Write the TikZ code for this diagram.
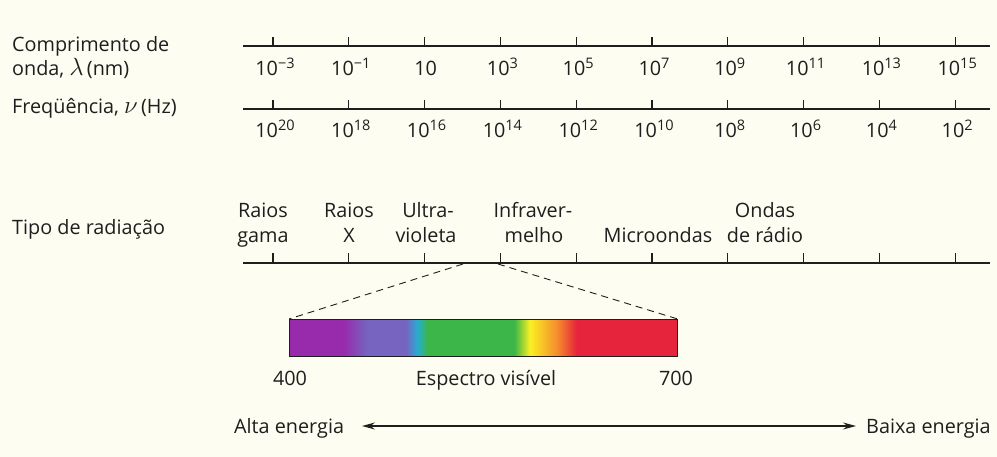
\documentclass[tikz,border=0pt]{standalone}
\usepackage{fontspec}
\setmainfont{Open Sans}
\usetikzlibrary{arrows.meta}
\definecolor{bgcream}{RGB}{253,253,242}
\definecolor{inkc}{RGB}{30,30,30}
\definecolor{specPurple}{RGB}{152,42,172}
\definecolor{specViolet}{RGB}{118,100,192}
\definecolor{specCyan}{RGB}{40,172,210}
\definecolor{specGreen}{RGB}{60,182,72}
\definecolor{specYellow}{RGB}{250,240,35}
\definecolor{specOrange}{RGB}{245,140,45}
\definecolor{specRed}{RGB}{230,36,60}
\pgfdeclarehorizontalshading{visspec}{100bp}{color(0bp)=(specPurple); color(25bp)=(specPurple); color(32bp)=(specPurple); color(35bp)=(specViolet); color(40bp)=(specViolet); color(41.5bp)=(specCyan); color(42.8bp)=(specGreen); color(54bp)=(specGreen); color(56bp)=(specYellow); color(59.5bp)=(specOrange); color(62bp)=(specRed); color(75bp)=(specRed); color(100bp)=(specRed)}
\newcommand{\pw}[1]{10\raisebox{7pt}{\fontsize{14.5}{14.5}\selectfont #1}}
\newcommand{\bigsym}[1]{\scalebox{1.2}{$#1$}}
\begin{document}
\begin{tikzpicture}[x=1pt,y=-1pt,
  txt/.style={font=\fontsize{19.8}{23}\selectfont, text=inkc, inner sep=0pt},
  lbl/.style={txt, anchor=base west},
  ticklbl/.style={txt, anchor=base},
  axisline/.style={draw=inkc, line width=1.6pt},
  tickmark/.style={draw=inkc, line width=1.1pt},
  zoomline/.style={draw=inkc, line width=0.9pt, dash pattern=on 7pt off 5pt},
  energyarrow/.style={draw=inkc, line width=1.3pt, {Stealth[length=13pt,width=7pt,inset=4.5pt]}-{Stealth[length=13pt,width=7pt,inset=4.5pt]}}
]
\fill[bgcream] (0,0) rectangle (997,457);
\useasboundingbox (0,0) rectangle (997,457);

% left labels
\node[lbl] (lc1) at (12,52) {Comprimento de};
\node[lbl] (lc2) at (12,76) {onda, \bigsym{\lambda}\,(nm)};
\node[lbl] (lf) at (12,114) {Freqüência, \bigsym{\nu}\,(Hz)};
\node[lbl] (lt) at (12,235) {Tipo de radiação};

% axes
\coordinate (a1s) at (243,46); \coordinate (a1e) at (990,46);
\coordinate (a2s) at (243,109); \coordinate (a2e) at (990,109);
\coordinate (a3s) at (243,263); \coordinate (a3e) at (990,263);
\draw[axisline] (a1s) -- (a1e);
\draw[axisline] (a2s) -- (a2e);
\draw[axisline] (a3s) -- (a3e);

\foreach \i in {0,...,9}{
  \pgfmathsetmacro{\tx}{273+75.8*\i}
  \coordinate (t1\i) at (\tx,46);
  \coordinate (t2\i) at (\tx,109);
  \coordinate (t3\i) at (\tx,263);
  \draw[tickmark] (t1\i) -- ++(0,-9);
  \draw[tickmark] (t2\i) -- ++(0,-9);
  \draw[tickmark] (t3\i) -- ++(0,-10);
}

% wavelength labels
\node[ticklbl] (w0) at (275,76) {\pw{−3}};
\node[ticklbl] (w1) at (350.8,76) {\pw{−1}};
\node[ticklbl] (w2) at (425.6,76) {10};
\node[ticklbl] (w3) at (502.4,76) {\pw{3}};
\node[ticklbl] (w4) at (578.2,76) {\pw{5}};
\node[ticklbl] (w5) at (654,76) {\pw{7}};
\node[ticklbl] (w6) at (729.8,76) {\pw{9}};
\node[ticklbl] (w7) at (805.6,76) {\pw{11}};
\node[ticklbl] (w8) at (881.4,76) {\pw{13}};
\node[ticklbl] (w9) at (957.2,76) {\pw{15}};

% frequency labels
\node[ticklbl] (f0) at (275,138) {\pw{20}};
\node[ticklbl] (f1) at (350.8,138) {\pw{18}};
\node[ticklbl] (f2) at (426.6,138) {\pw{16}};
\node[ticklbl] (f3) at (502.4,138) {\pw{14}};
\node[ticklbl] (f4) at (578.2,138) {\pw{12}};
\node[ticklbl] (f5) at (654,138) {\pw{10}};
\node[ticklbl] (f6) at (729.8,138) {\pw{8}};
\node[ticklbl] (f7) at (805.6,138) {\pw{6}};
\node[ticklbl] (f8) at (881.4,138) {\pw{4}};
\node[ticklbl] (f9) at (957.2,138) {\pw{2}};

% radiation types
\node[ticklbl] (r1a) at (263,218) {Raios};
\node[ticklbl] (r1b) at (263,243) {gama};
\node[ticklbl] (r2a) at (349,218) {Raios};
\node[ticklbl] (r2b) at (349,243) {X};
\node[ticklbl] (r3a) at (428,218) {Ultra-};
\node[ticklbl] (r3b) at (426,243) {violeta};
\node[ticklbl] (r4a) at (533,218) {Infraver-};
\node[ticklbl] (r4b) at (534,243) {melho};
\node[ticklbl] (r5) at (658,243) {Microondas};
\node[ticklbl] (r6a) at (765,218) {Ondas};
\node[ticklbl] (r6b) at (765,243) {de rádio};

% visible spectrum
\coordinate (zl) at (463,264);
\coordinate (zr) at (498,264);
\node[draw=inkc, line width=0.7pt, minimum width=388pt, minimum height=37pt, inner sep=0pt, shading=visspec, anchor=north west] (band) at (289,319) {};
\draw[zoomline] (zl) -- (band.north west);
\draw[zoomline] (zr) -- (band.north east);
\node[ticklbl] (v400) at (290,385) {400};
\node[ticklbl] (vlab) at (486,385) {Espectro visível};
\node[ticklbl] (v700) at (676,385) {700};

% energy arrow
\node[lbl] (alta) at (234,433) {Alta energia};
\node[lbl] (baixa) at (866,433) {Baixa energia};
\coordinate (ea) at (362,426);
\coordinate (eb) at (856,426);
\draw[energyarrow] (ea) -- (eb);
\end{tikzpicture}
\end{document}
